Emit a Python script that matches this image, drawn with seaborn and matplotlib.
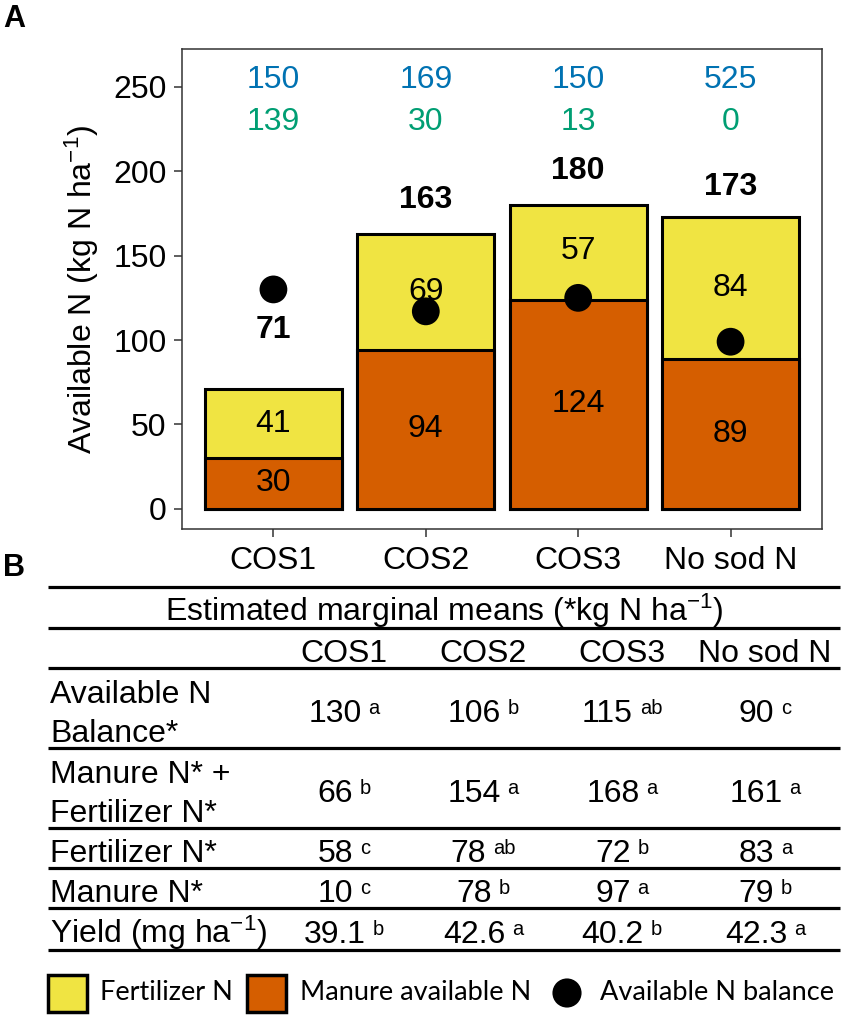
import numpy as np
import pandas as pd
import matplotlib
matplotlib.use('Agg')
import matplotlib.pyplot as plt
import seaborn as sns
from matplotlib.patches import Rectangle

# Panel A data
treatments = ['COS1', 'COS2', 'COS3', 'No sod N']
manure_n = [30, 94, 124, 89]
fert_n = [41, 69, 57, 84]
total_n = [71, 163, 180, 173]
balance_n = [130, 117, 125, 99]
blue_vals = [150, 169, 150, 525]
green_vals = [139, 30, 13, 0]
total_offset = [35, 20, 20, 18]

# Panel B table data
row_labels = ['Available N\nBalance*', 'Manure N* +\nFertilizer N*',
              'Fertilizer N*', 'Manure N*', 'Yield (mg ha$^{\\mathregular{-1}}$)']
row_values = [['130', '106', '115', '90'],
              ['66', '154', '168', '161'],
              ['58', '78', '72', '83'],
              ['10', '78', '97', '79'],
              ['39.1', '42.6', '40.2', '42.3']]
row_letters = [['a', 'b', 'ab', 'c'],
               ['b', 'a', 'a', 'a'],
               ['c', 'ab', 'b', 'a'],
               ['c', 'b', 'a', 'b'],
               ['b', 'a', 'b', 'a']]

YELLOW = '#F0E442'
ORANGE = '#D55E00'
BLUE = '#0072B2'
GREEN = '#009E73'

sns.set_theme(style='white')
plt.rcParams['font.family'] = ['Liberation Sans', 'DejaVu Sans']
plt.rcParams['mathtext.fontset'] = 'custom'
plt.rcParams['mathtext.rm'] = 'Liberation Sans'
plt.rcParams['mathtext.it'] = 'Liberation Sans:italic'
plt.rcParams['mathtext.bf'] = 'Liberation Sans:bold'
for k in ['text.color', 'axes.labelcolor', 'xtick.color', 'ytick.color']:
    plt.rcParams[k] = 'black'

df = pd.DataFrame({'treatment': treatments, 'manure': manure_n, 'fert': fert_n,
                   'total': total_n, 'balance': balance_n})

W, H = 851, 1027
fig = plt.figure(figsize=(W / 100, H / 100), dpi=100)
ax = fig.add_axes([182 / W, 1 - 529 / H, (822 - 182) / W, (529 - 49) / H])

FS = 23
sns.barplot(data=df, x='treatment', y='total', color=YELLOW, width=0.9,
            edgecolor='black', linewidth=2.2, saturation=1, ax=ax)
sns.barplot(data=df, x='treatment', y='manure', color=ORANGE, width=0.9,
            edgecolor='black', linewidth=2.2, saturation=1, ax=ax)
sns.scatterplot(data=df, x='treatment', y='balance', color='black', s=400,
                edgecolor='none', zorder=5, ax=ax)

for i, row in df.iterrows():
    ax.text(i, row['manure'] / 2, str(row['manure']), ha='center', va='center', fontsize=FS)
    ax.text(i, row['manure'] + row['fert'] / 2, str(row['fert']), ha='center', va='center', fontsize=FS)
    ax.text(i, row['total'] + total_offset[i], str(row['total']), ha='center', va='center',
            fontsize=FS, fontweight='bold')
    ax.text(i, 254, str(blue_vals[i]), ha='center', va='center', fontsize=FS, color=BLUE)
    ax.text(i, 229, str(green_vals[i]), ha='center', va='center', fontsize=FS, color=GREEN)

ax.set_xlim(-0.6, 3.6)
ax.set_ylim(-12, 272.5)
ax.set_yticks([0, 50, 100, 150, 200, 250])
ax.set_xlabel('')
ax.set_ylabel('Available N (kg N ha$^{\\mathregular{-1}}$)', fontsize=FS, labelpad=9)
ax.tick_params(axis='both', labelsize=FS, length=5.5, width=1.1, color='#333333',
               left=True, bottom=True)
ax.tick_params(axis='y', pad=5.5)
ax.tick_params(axis='x', pad=7)
for s in ax.spines.values():
    s.set_color('#333333')
    s.set_linewidth(1.1)

# overlay in pixel coordinates for panel labels, table and legend
ov = fig.add_axes([0, 0, 1, 1], zorder=10)
ov.set_xlim(0, W)
ov.set_ylim(H, 0)
ov.axis('off')
ov.patch.set_alpha(0)

ov.text(3, 27, 'A', fontsize=22, fontweight='bold', va='baseline', ha='left')
ov.text(3, 576, 'B', fontsize=22, fontweight='bold', va='baseline', ha='left')

line_y = [587, 628, 668, 748, 828, 868, 908, 950]
ov.hlines(line_y, 48, 840, color='black', linewidth=2.3)

cap = 0.716 * FS * 100 / 72   # cap height in px
def base(yc):
    return yc + 3 + cap / 2

col_x = [344, 483, 622, 765]
ov.text(444, base(607), 'Estimated marginal means (*kg N ha$^{\\mathregular{-1}}$)',
        ha='center', va='baseline', fontsize=FS)
for x, t in zip(col_x, treatments):
    ov.text(x, base(648), t, ha='center', va='baseline', fontsize=FS)

fig.canvas.draw()
renderer = fig.canvas.get_renderer()
SFS = 14.5
gap = 7
for r in range(len(row_labels)):
    yc = (line_y[r + 2] + line_y[r + 3]) / 2
    lines = row_labels[r].split('\n')
    n = len(lines)
    for k, lab in enumerate(lines):
        ov.text(50, base(yc + (k - (n - 1) / 2) * 39), lab, ha='left', va='baseline', fontsize=FS)
    for c in range(4):
        t1 = ov.text(0, base(yc), row_values[r][c], ha='left', va='baseline', fontsize=FS)
        t2 = ov.text(0, base(yc) - 8, row_letters[r][c], ha='left', va='baseline', fontsize=SFS)
        w1 = t1.get_window_extent(renderer).width
        w2 = t2.get_window_extent(renderer).width
        x0 = col_x[c] - (w1 + gap + w2) / 2
        t1.set_x(x0)
        t2.set_x(x0 + w1 + gap)

# legend
LFS = 19.5
ov.add_patch(Rectangle((48, 975), 39, 37, facecolor=YELLOW, edgecolor='black', linewidth=2.5))
ov.text(100, 993, 'Fertilizer N', ha='left', va='center', fontsize=LFS, family='Lato')
ov.add_patch(Rectangle((247, 975), 39, 37, facecolor=ORANGE, edgecolor='black', linewidth=2.5))
ov.text(300, 993, 'Manure available N', ha='left', va='center', fontsize=LFS, family='Lato')
ov.scatter([567], [993], s=440, color='black', edgecolor='none')
ov.text(600, 993, 'Available N balance', ha='left', va='center', fontsize=LFS, family='Lato')

fig.savefig('out.png', dpi=100)
